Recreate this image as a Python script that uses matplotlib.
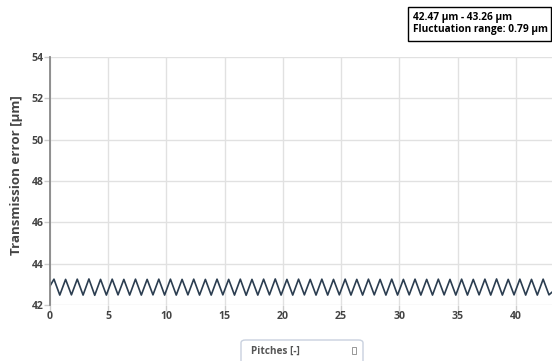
import matplotlib
matplotlib.use("Agg")
import matplotlib.pyplot as plt
from matplotlib.patches import Rectangle, FancyBboxPatch

# Transmission error per pitch: crest and root of every tooth mesh
peak_pos = [0.34, 1.34, 2.34, 3.34, 4.34, 5.34, 6.34, 7.34, 8.34, 9.34,
            10.34, 11.34, 12.34, 13.34, 14.34, 15.34, 16.34, 17.34, 18.34, 19.34,
            20.34, 21.34, 22.34, 23.34, 24.34, 25.34, 26.34, 27.34, 28.34, 29.34,
            30.34, 31.34, 32.34, 33.34, 34.34, 35.34, 36.34, 37.34, 38.34, 39.34,
            40.34, 41.34, 42.34]
peak_val = [43.25, 43.24, 43.25, 43.26, 43.24, 43.25, 43.24, 43.25, 43.24, 43.25,
            43.25, 43.24, 43.25, 43.24, 43.25, 43.24, 43.25, 43.24, 43.25, 43.26,
            43.24, 43.25, 43.24, 43.25, 43.24, 43.25, 43.24, 43.25, 43.24, 43.25,
            43.24, 43.25, 43.24, 43.25, 43.24, 43.25, 43.24, 43.25, 43.26, 43.24,
            43.25, 43.24, 43.25]
trough_pos = [0.84, 1.84, 2.84, 3.84, 4.84, 5.84, 6.84, 7.84, 8.84, 9.84,
              10.84, 11.84, 12.84, 13.84, 14.84, 15.84, 16.84, 17.84, 18.84, 19.84,
              20.84, 21.84, 22.84, 23.84, 24.84, 25.84, 26.84, 27.84, 28.84, 29.84,
              30.84, 31.84, 32.84, 33.84, 34.84, 35.84, 36.84, 37.84, 38.84, 39.84,
              40.84, 41.84, 42.84]
trough_val = [42.48, 42.49, 42.48, 42.47, 42.48, 42.49, 42.48, 42.48, 42.49, 42.48,
              42.48, 42.49, 42.48, 42.48, 42.49, 42.48, 42.47, 42.48, 42.49, 42.48,
              42.48, 42.49, 42.48, 42.48, 42.49, 42.48, 42.48, 42.49, 42.48, 42.48,
              42.49, 42.48, 42.48, 42.49, 42.48, 42.48, 42.49, 42.48, 42.48, 42.49,
              42.48, 42.48, 42.49]
start_pos, start_val = 0.0, 42.92
end_pos, end_val = 43.1, 42.62

x_ticks = [0, 5, 10, 15, 20, 25, 30, 35, 40]
y_ticks = [42, 44, 46, 48, 50, 52, 54]

# assemble the curve in pitch order
xs = [start_pos]
ys = [start_val]
for pp, pv, tp, tv in zip(peak_pos, peak_val, trough_pos, trough_val):
    xs += [pp, tp]
    ys += [pv, tv]
xs.append(end_pos)
ys.append(end_val)

plt.rcParams['font.family'] = ['Open Sans', 'DejaVu Sans']

W, H = 552, 361
fig = plt.figure(figsize=(W / 100, H / 100), dpi=100)
ax = fig.add_axes([50 / W, 1 - 305 / H, (W - 50) / W, (305 - 57) / H])

text_col = '#444444'
grid_col = '#e1e1e1'

ax.plot(xs, ys, color='#2b3d50', lw=1.2, solid_joinstyle='round')

ax.set_xlim(0, 43.1)
ax.set_ylim(42, 54)
ax.set_xticks(x_ticks)
ax.set_yticks(y_ticks)
ax.grid(True, color=grid_col, lw=1.0)
ax.set_axisbelow(True)
for side in ('top', 'right', 'bottom'):
    ax.spines[side].set_visible(False)
ax.spines['left'].set_color('#888888')
ax.spines['left'].set_linewidth(1.3)
ax.tick_params(axis='both', colors='#cccccc', length=4, width=1,
               labelcolor=text_col, labelsize=7.6)
ax.tick_params(axis='y', pad=0.5)
ax.tick_params(axis='x', pad=0)
for lab in ax.get_xticklabels() + ax.get_yticklabels():
    lab.set_fontweight('bold')

fig.text(17 / W, 1 - 175 / H, 'Transmission error [μm]', rotation=90,
         ha='center', va='center', fontsize=9.6, fontweight='bold', color=text_col)

# range annotation box
lo, hi = min(ys), max(ys)
box_txt = f'{lo:.2f} μm - {hi:.2f} μm\nFluctuation range: {hi - lo:.2f} μm'
fig.patches.append(Rectangle((408 / W, 1 - 41 / H), 143 / W, 34 / H,
                             transform=fig.transFigure, facecolor='white',
                             edgecolor='black', lw=1.0))
fig.text(413 / W, 1 - 23.5 / H, box_txt, ha='left', va='center',
         fontsize=7.3, fontweight='bold', color='black', linespacing=1.15)

# x-axis title box
fig.patches.append(FancyBboxPatch((241 / W, 1 - 366 / H), 122 / W, 26 / H,
                                  boxstyle='round,pad=0,rounding_size=0.008',
                                  transform=fig.transFigure, facecolor='white',
                                  edgecolor='#c9d1df', lw=1.0))
fig.text(251 / W, 1 - 351 / H, 'Pitches [-]', ha='left', va='center',
         fontsize=7.2, fontweight='bold', color='#555555')
fig.patches.append(Rectangle((352 / W, 1 - 354 / H), 4 / W, 7 / H,
                             transform=fig.transFigure, facecolor='none',
                             edgecolor='#888888', lw=0.6))

fig.savefig('out.png', dpi=100)
